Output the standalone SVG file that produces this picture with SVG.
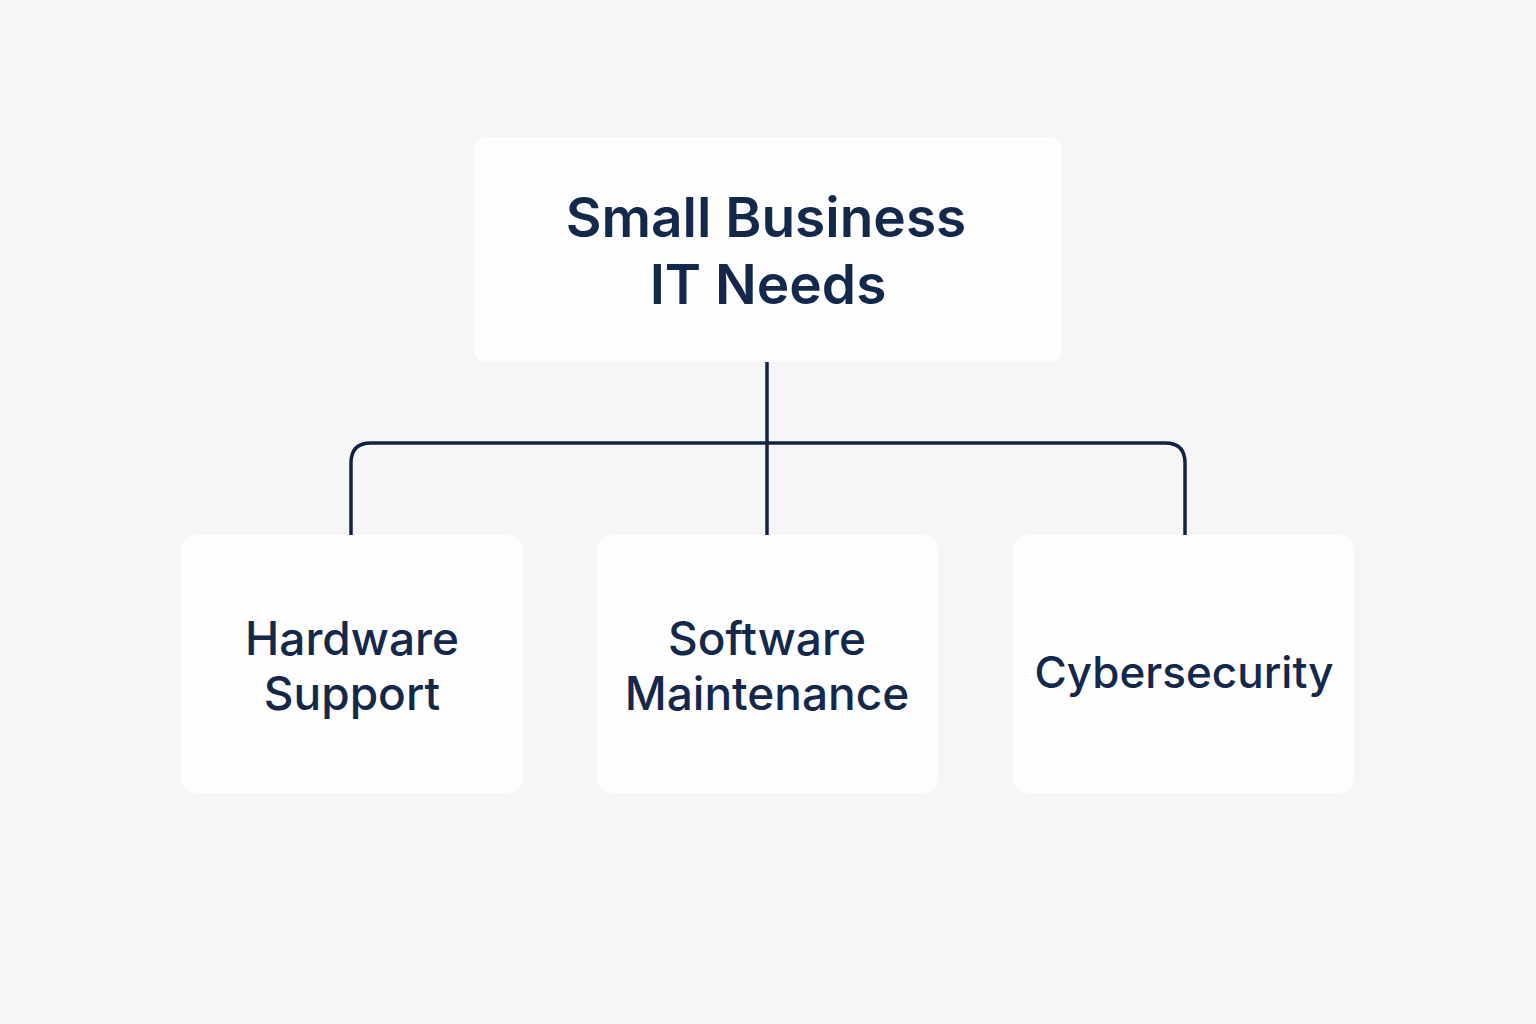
<svg xmlns="http://www.w3.org/2000/svg" width="1536" height="1024" viewBox="0 0 1536 1024">
<style>
.bg{fill:#f6f6f6}
.box{fill:#fdfdfd}
.title{font-family:Inter,"Liberation Sans",sans-serif;font-weight:600;font-size:55px;fill:#13284b;text-anchor:middle}
.lbl{font-family:Inter,"Liberation Sans",sans-serif;font-weight:500;font-size:46px;fill:#13284b;text-anchor:middle}
.lbl.sm{font-size:44px}
.conn{fill:none;stroke:#13233f;stroke-width:3.5}
</style>
<rect class="bg" x="0" y="0" width="1536" height="1024"/>
<g id="connectors">
<path class="conn" d="M767 362 V535"/>
<path class="conn" d="M351 535 V463 Q351 443 371 443 H1165 Q1185 443 1185 463 V535"/>
</g>
<g id="root">
<rect class="box" x="473" y="137" width="589" height="225" rx="14"/>
<text class="title" x="766" y="237">Small Business</text>
<text class="title" x="768" y="304">IT Needs</text>
</g>
<g id="hardware">
<rect class="box" x="181" y="535" width="342" height="258" rx="14"/>
<text class="lbl" x="352" y="655">Hardware</text>
<text class="lbl" x="352" y="710">Support</text>
</g>
<g id="software">
<rect class="box" x="597" y="535" width="341" height="258" rx="14"/>
<text class="lbl" x="767" y="655">Software</text>
<text class="lbl" x="767" y="710">Maintenance</text>
</g>
<g id="cyber">
<rect class="box" x="1013" y="535" width="341" height="258" rx="14"/>
<text class="lbl sm" x="1184" y="688">Cybersecurity</text>
</g>
</svg>
